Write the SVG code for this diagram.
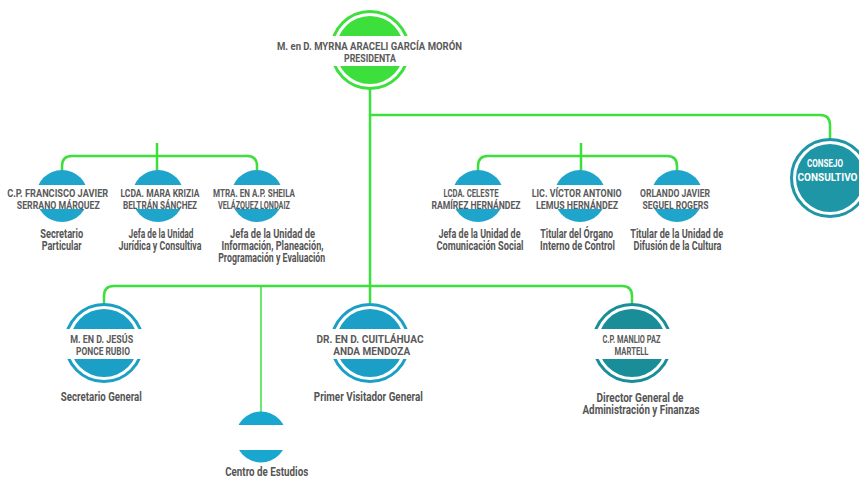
<svg xmlns="http://www.w3.org/2000/svg" width="859" height="478" viewBox="0 0 859 478">
<style>
.ln{fill:none;stroke:#3ddf3d;stroke-width:2.5}
.thin{fill:none;stroke:#3ddf3d;stroke-width:1.5}
.ring{fill:none;stroke-width:3}
.band{fill:#ffffff}
text{font-family:Roboto,"Liberation Sans",sans-serif;font-weight:700;text-anchor:middle}
.nm{font-size:11px;fill:#5a5a5a}
.ds{font-size:12px;fill:#555555}
.wt{font-size:11px;fill:#ffffff}
</style>
<rect width="859" height="478" fill="#ffffff"/>
<g id="connectors">
  <path class="ln" d="M370,88 V303"/>
  <path class="ln" d="M370,115 H820 Q830,115 830,125 V139"/>
  <path class="ln" d="M62,171 V166 Q62,156 72,156 H247 Q257,156 257,166 V171"/>
  <path class="ln" d="M157,143 V171"/>
  <path class="ln" d="M478,171 V166 Q478,156 488,156 H667 Q677,156 677,166 V171"/>
  <path class="ln" d="M581,143 V171"/>
  <path class="ln" d="M104,304 V296 Q104,286 114,286 H622 Q632,286 632,296 V304"/>
  <path class="thin" d="M261,286 V413"/>
</g>
<g id="presidenta">
  <circle class="ring" cx="370" cy="50" r="38.5" stroke="#3ddf3d"/>
  <circle cx="370" cy="50" r="34" fill="#3ddf3d"/>
  <rect class="band" x="325" y="36" width="90" height="30"/>
  <text class="nm" x="369.5" y="50" textLength="185" lengthAdjust="spacingAndGlyphs">M. en D. MYRNA ARACELI GARCÍA MORÓN</text>
  <text class="nm" x="370" y="61.5" textLength="52" lengthAdjust="spacingAndGlyphs">PRESIDENTA</text>
</g>
<g id="consejo">
  <circle class="ring" cx="830" cy="178" r="38.5" stroke="#1f96a5"/>
  <circle cx="830" cy="178" r="34" fill="#1f96a5"/>
  <text class="wt" x="825" y="167" textLength="36" lengthAdjust="spacingAndGlyphs">CONSEJO</text>
  <text class="wt" x="827.5" y="180.5" textLength="60" lengthAdjust="spacingAndGlyphs">CONSULTIVO</text>
</g>
<g id="secretario-particular">
  <circle cx="62" cy="196" r="26" fill="#1fa5cc"/>
  <rect class="band" x="30" y="185" width="64" height="24"/>
  <text class="nm" x="57.7" y="197" textLength="101" lengthAdjust="spacingAndGlyphs">C.P. FRANCISCO JAVIER</text>
  <text class="nm" x="58.3" y="208.5" textLength="83" lengthAdjust="spacingAndGlyphs">SERRANO MÁRQUEZ</text>
  <text class="ds" x="61.7" y="238" textLength="43" lengthAdjust="spacingAndGlyphs">Secretario</text>
  <text class="ds" x="61.7" y="250" textLength="40" lengthAdjust="spacingAndGlyphs">Particular</text>
</g>
<g id="juridica">
  <circle cx="158" cy="196" r="26" fill="#1fa5cc"/>
  <rect class="band" x="126" y="185" width="64" height="24"/>
  <text class="nm" x="160" y="197" textLength="79" lengthAdjust="spacingAndGlyphs">LCDA. MARA KRIZIA</text>
  <text class="nm" x="160" y="208.5" textLength="74" lengthAdjust="spacingAndGlyphs">BELTRÁN SÁNCHEZ</text>
  <text class="ds" x="161" y="238" textLength="65" lengthAdjust="spacingAndGlyphs">Jefa de la Unidad</text>
  <text class="ds" x="160" y="250" textLength="83" lengthAdjust="spacingAndGlyphs">Jurídica y Consultiva</text>
</g>
<g id="informacion">
  <circle cx="257" cy="196" r="26" fill="#1fa5cc"/>
  <rect class="band" x="225" y="185" width="64" height="24"/>
  <text class="nm" x="254" y="197" textLength="82" lengthAdjust="spacingAndGlyphs">MTRA. EN A.P. SHEILA</text>
  <text class="nm" x="254" y="208.5" textLength="72" lengthAdjust="spacingAndGlyphs">VELÁZQUEZ LONDAIZ</text>
  <text class="ds" x="272.5" y="238" textLength="85" lengthAdjust="spacingAndGlyphs">Jefa de la Unidad de</text>
  <text class="ds" x="272.5" y="250" textLength="102" lengthAdjust="spacingAndGlyphs">Información, Planeación,</text>
  <text class="ds" x="271.7" y="262" textLength="107" lengthAdjust="spacingAndGlyphs">Programación y Evaluación</text>
</g>
<g id="comunicacion">
  <circle cx="478" cy="196" r="26" fill="#1fa5cc"/>
  <rect class="band" x="446" y="185" width="64" height="24"/>
  <text class="nm" x="471" y="197" textLength="55" lengthAdjust="spacingAndGlyphs">LCDA. CELESTE</text>
  <text class="nm" x="476" y="208.5" textLength="89" lengthAdjust="spacingAndGlyphs">RAMÍREZ HERNÁNDEZ</text>
  <text class="ds" x="479.5" y="238" textLength="82" lengthAdjust="spacingAndGlyphs">Jefa de la Unidad de</text>
  <text class="ds" x="480" y="250" textLength="87" lengthAdjust="spacingAndGlyphs">Comunicación Social</text>
</g>
<g id="control">
  <circle cx="580" cy="196" r="26" fill="#1fa5cc"/>
  <rect class="band" x="548" y="185" width="64" height="24"/>
  <text class="nm" x="576.7" y="197" textLength="90" lengthAdjust="spacingAndGlyphs">LIC. VÍCTOR ANTONIO</text>
  <text class="nm" x="577" y="208.5" textLength="82" lengthAdjust="spacingAndGlyphs">LEMUS HERNÁNDEZ</text>
  <text class="ds" x="576.7" y="238" textLength="73" lengthAdjust="spacingAndGlyphs">Titular del Órgano</text>
  <text class="ds" x="577.5" y="250" textLength="75" lengthAdjust="spacingAndGlyphs">Interno de Control</text>
</g>
<g id="cultura">
  <circle cx="677" cy="196" r="26" fill="#1fa5cc"/>
  <rect class="band" x="645" y="185" width="64" height="24"/>
  <text class="nm" x="675" y="197" textLength="70" lengthAdjust="spacingAndGlyphs">ORLANDO JAVIER</text>
  <text class="nm" x="675.5" y="208.5" textLength="66" lengthAdjust="spacingAndGlyphs">SEGUEL ROGERS</text>
  <text class="ds" x="676.7" y="238" textLength="93" lengthAdjust="spacingAndGlyphs">Titular de la Unidad de</text>
  <text class="ds" x="677.5" y="250" textLength="88" lengthAdjust="spacingAndGlyphs">Difusión de la Cultura</text>
</g>
<g id="secretario-general">
  <circle class="ring" cx="104" cy="343" r="38.5" stroke="#1c9fc7"/>
  <circle cx="104" cy="343" r="34" fill="#1c9fc7"/>
  <rect class="band" x="59" y="329" width="90" height="30"/>
  <text class="nm" x="101.7" y="343" textLength="63" lengthAdjust="spacingAndGlyphs">M. EN D. JESÚS</text>
  <text class="nm" x="103" y="355" textLength="54" lengthAdjust="spacingAndGlyphs">PONCE RUBIO</text>
  <text class="ds" x="101.3" y="401" textLength="81" lengthAdjust="spacingAndGlyphs">Secretario General</text>
</g>
<g id="visitador">
  <circle class="ring" cx="370" cy="343" r="38.5" stroke="#1c9fc7"/>
  <circle cx="370" cy="343" r="34" fill="#1c9fc7"/>
  <rect class="band" x="325" y="329" width="90" height="30"/>
  <text class="nm" x="370" y="343" textLength="107" lengthAdjust="spacingAndGlyphs">DR. EN D. CUITLÁHUAC</text>
  <text class="nm" x="371.7" y="355" textLength="77" lengthAdjust="spacingAndGlyphs">ANDA MENDOZA</text>
  <text class="ds" x="368.3" y="401" textLength="109" lengthAdjust="spacingAndGlyphs">Primer Visitador General</text>
</g>
<g id="administracion">
  <circle class="ring" cx="632" cy="343" r="38.5" stroke="#1a8e98"/>
  <circle cx="632" cy="343" r="34" fill="#1a8e98"/>
  <rect class="band" x="587" y="329" width="90" height="30"/>
  <text class="nm" x="631.5" y="343" textLength="58" lengthAdjust="spacingAndGlyphs">C.P. MANLIO PAZ</text>
  <text class="nm" x="631.5" y="355" textLength="34" lengthAdjust="spacingAndGlyphs">MARTELL</text>
  <text class="ds" x="640" y="402" textLength="87" lengthAdjust="spacingAndGlyphs">Director General de</text>
  <text class="ds" x="641" y="414" textLength="117" lengthAdjust="spacingAndGlyphs">Administración y Finanzas</text>
</g>
<g id="centro-estudios">
  <circle cx="261" cy="437" r="25.5" fill="#1aa7cf"/>
  <rect class="band" x="230" y="425" width="62" height="25"/>
  <text class="ds" x="266.7" y="475.5" textLength="83" lengthAdjust="spacingAndGlyphs">Centro de Estudios</text>
</g>
</svg>
